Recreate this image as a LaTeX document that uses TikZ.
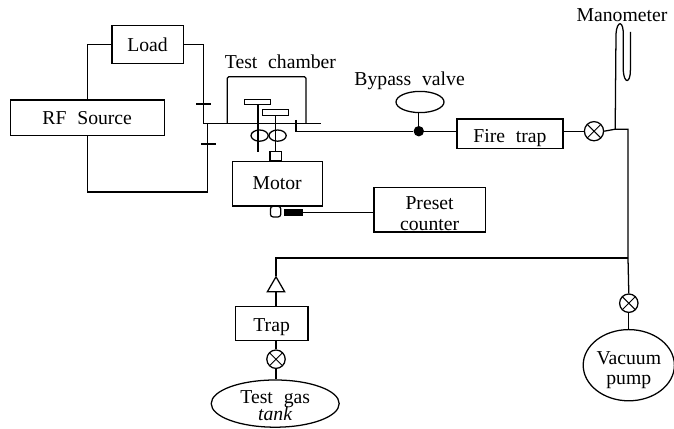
\documentclass[tikz,border=0pt]{standalone}
\usepackage{xcolor}
\usepackage{fontspec}
\setmainfont{Liberation Serif}
\usepackage{tikz}
\usetikzlibrary{shapes.geometric, positioning, calc}
\newcommand{\labelfont}{\fontsize{14}{15.5}\selectfont\spaceskip=0.55em\relax}
\tikzset{
  unit/.style={rectangle, draw, align=center, inner sep=0pt, font=\labelfont, line width=0.9pt},
  vessel/.style={ellipse, draw, align=center, inner sep=0pt, font=\labelfont, line width=0.9pt},
  valve/.style={circle, draw, minimum size=0.48cm, inner sep=0pt, line width=0.9pt,
    path picture={\draw[line width=0.7pt] (path picture bounding box.north west) -- (path picture bounding box.south east)
      (path picture bounding box.north east) -- (path picture bounding box.south west);}},
  electrode/.style={rectangle, draw, fill=white, minimum width=0.65cm, minimum height=0.14cm, inner sep=0pt, line width=0.9pt},
  rotor/.style={ellipse, draw, minimum width=0.43cm, minimum height=0.28cm, inner sep=0pt, line width=0.9pt},
  caption/.style={font=\labelfont, inner sep=0pt, align=center},
  line/.style={line width=0.9pt}
}
\begin{document}
\begin{tikzpicture}
  \useasboundingbox (0,0) rectangle (16.85,10.7);

  % RF circuit
  \node[unit, minimum width=1.78cm, minimum height=0.95cm] (load) at (3.69,9.58) {Load};
  \node[unit, minimum width=3.85cm, minimum height=0.88cm] (rf) at (2.18,7.76) {RF Source};
  \coordinate (feedtop) at (5.08,7.62);
  \coordinate (feedlow) at (5.18,7.62);
  \coordinate (feedend) at (8.03,7.62);
  \draw[line] (load.west) -| (rf.north);
  \draw[line] (load.east) -| (feedtop);
  \draw[line] (rf.south) |- (5.18,5.9) -- (feedlow);
  \draw[line] (feedtop) -- (feedend);
  \draw[line] (4.9,8.1) -- (5.28,8.1);
  \draw[line] (5.03,7.1) -- (5.4,7.1);

  % Test chamber
  \node[caption] (chamberlabel) at (7.01,9.15) {Test chamber};
  \draw[line, rounded corners=1pt] (5.68,7.62) -- (5.68,8.78) -- (7.65,8.78) -- (7.65,7.62);
  \node[electrode] (upper) at (6.43,8.15) {};
  \node[electrode] (lower) at (6.88,7.89) {};
  \node[rotor] (rotorl) at (6.49,7.31) {};
  \node[rotor] (rotorr) at (6.94,7.31) {};

  % Motor and counter
  \node[unit, minimum width=2.25cm, minimum height=1.12cm] (motor) at (6.93,6.11) {Motor};
  \node[unit, minimum width=0.28cm, minimum height=0.23cm] (shaft) at (6.89,6.79) {};
  \node[unit, minimum width=0.26cm, minimum height=0.27cm, rounded corners=2pt] (encoder) at (6.89,5.41) {};
  \node[rectangle, fill=black, minimum width=0.48cm, minimum height=0.17cm, inner sep=0pt] (sensor) at (7.34,5.39) {};
  \node[unit, minimum width=2.78cm, minimum height=1.12cm] (preset) at (10.74,5.46) {\rule{0pt}{15pt}Preset\\[-1pt]counter};
  \draw[line] (upper.south) ++(0.02,0) -- (6.45,6.9);
  \draw[line] (lower.south) -- (shaft.north -| lower.south);
  \draw[line] (sensor.east) -- (sensor.east -| preset.west);

  % Pumping line
  \node[caption] (bypasslabel) at (10.24,8.67) {Bypass valve};
  \node[vessel, minimum width=1.2cm, minimum height=0.53cm] (bypass) at (10.5,8.15) {};
  \node[circle, fill=black, minimum size=0.26cm, inner sep=0pt] (dot) at (10.47,7.42) {};
  \node[unit, minimum width=2.65cm, minimum height=0.73cm, text height=15pt] (firetrap) at (12.75,7.36) {Fire trap};
  \node[valve] (linevalve) at (14.85,7.42) {};
  \coordinate (manofoot) at (15.38,7.47);
  \coordinate (riser) at (15.7,7.47);
  \coordinate (tee) at (15.7,4.25);
  \draw[line] (7.4,7.7) |- (dot.west);
  \draw[line] (dot.east) -- (dot.east -| firetrap.west);
  \draw[line] (dot.north) -- (dot.north |- bypass.south);
  \draw[line] (firetrap.east |- linevalve.west) -- (linevalve.west);
  \draw[line] (linevalve.east) -- (manofoot) -- (riser) -- (tee);

  % Manometer
  \node[caption] (manolabel) at (15.55,10.32) {Manometer};
  \draw[line] (manofoot) -- (15.4,9.85) .. controls (15.42,10.2) and (15.6,10.2) .. (15.58,9.8)
    -- (15.58,8.95) .. controls (15.6,8.6) and (15.76,8.6) .. (15.76,8.95) -- (15.76,9.9);

  % Gas feed
  \node[regular polygon, regular polygon sides=3, draw, minimum size=0.5cm, inner sep=0pt, line width=0.9pt] (check) at (6.9,3.53) {};
  \node[unit, minimum width=1.82cm, minimum height=0.85cm, text height=15pt] (trap) at (6.79,2.62) {Trap};
  \node[valve, minimum size=0.46cm] (gasvalve) at (6.9,1.72) {};
  \node[vessel, minimum width=3.2cm, minimum height=1.18cm] (tank) at (6.88,0.61) {};
  \node[caption] (tanklabel) at (6.88,0.56) {Test gas\\[-3pt]\textit{tank}};
  \draw[line] (tee) -| (check.north);
  \draw[line] (check.south) -- (check.south |- trap.north);
  \draw[line] (gasvalve.north) -- (gasvalve.north |- trap.south);
  \draw[line] (gasvalve.south) -- (gasvalve.south |- tank.north);

  % Vacuum pump
  \node[valve, minimum size=0.46cm] (pumpvalve) at (15.72,3.12) {};
  \node[vessel, minimum width=2.2cm, minimum height=1.78cm] (pump) at (15.72,1.57) {\rule{0pt}{16pt}Vacuum\\[-1pt]pump};
  \draw[line] (tee) -- (pumpvalve.north);
  \draw[line] (pumpvalve.south) -- (pump.north);
\end{tikzpicture}
\end{document}
